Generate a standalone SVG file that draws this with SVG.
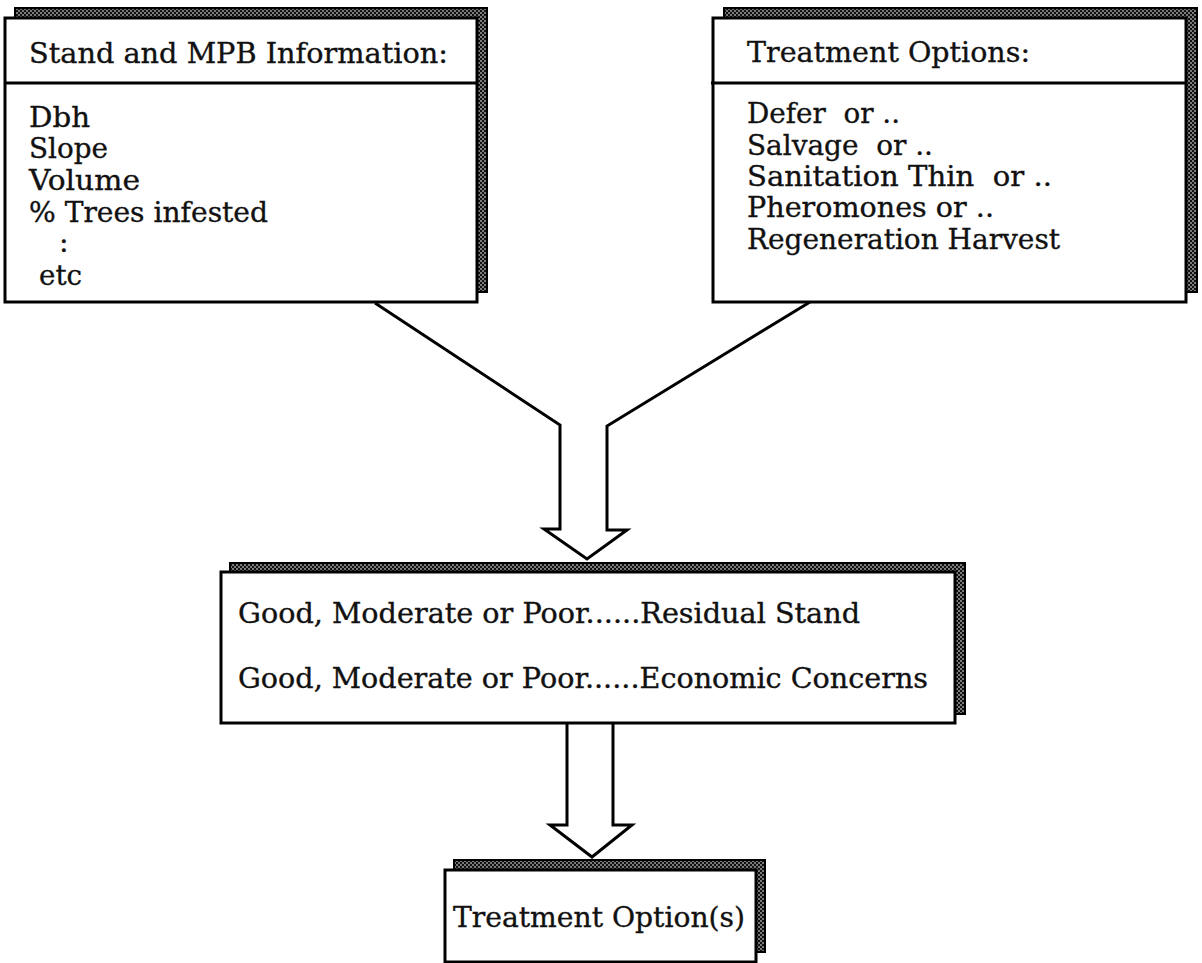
<svg xmlns="http://www.w3.org/2000/svg" width="1202" height="963" viewBox="0 0 1202 963">
  <defs>
    <!-- stippled fill used for the offset box shadows -->
    <pattern id="stipple" width="4" height="4" patternUnits="userSpaceOnUse">
      <rect width="4" height="4" fill="#111"/>
      <circle cx="1" cy="1" r="0.8" fill="#fff"/>
      <circle cx="3" cy="3" r="0.8" fill="#fff"/>
    </pattern>
    <style>
      .shadow { fill: url(#stipple); stroke: #000; stroke-width: 2; }
      .box { fill: #fff; stroke: #000; stroke-width: 3; }
      .rule { stroke: #000; stroke-width: 3; }
      .lbl { font-family: "DejaVu Serif", "Liberation Serif", serif; font-size: 28.5px; fill: #111; stroke: #111; stroke-width: 0.35; }
      .mid { font-size: 27px; }
      .arrow { fill: none; stroke: #000; stroke-width: 3; stroke-linejoin: miter; }
    </style>
  </defs>

  <rect width="1202" height="963" fill="#fff"/>

  <!-- input box: stand and MPB information -->
  <g id="stand-info">
    <rect class="shadow" x="15" y="8" width="472" height="284"/>
    <rect class="box" x="5" y="18" width="472" height="284"/>
    <line class="rule" x1="5" y1="83" x2="477" y2="83"/>
    <text class="lbl" x="29" y="63" textLength="419" lengthAdjust="spacingAndGlyphs">Stand and MPB Information:</text>
    <text class="lbl" x="29" y="127" textLength="61" lengthAdjust="spacingAndGlyphs">Dbh</text>
    <text class="lbl" x="29" y="158" textLength="79" lengthAdjust="spacingAndGlyphs">Slope</text>
    <text class="lbl" x="29" y="190" textLength="111" lengthAdjust="spacingAndGlyphs">Volume</text>
    <text class="lbl" x="29" y="221.5" textLength="239" lengthAdjust="spacingAndGlyphs">% Trees infested</text>
    <text class="lbl" x="59" y="252">:</text>
    <text class="lbl" x="39" y="285" textLength="43" lengthAdjust="spacingAndGlyphs">etc</text>
  </g>

  <!-- input box: treatment options -->
  <g id="treatment-options">
    <rect class="shadow" x="724" y="8" width="473" height="284"/>
    <rect class="box" x="713" y="18" width="473" height="284"/>
    <line class="rule" x1="711" y1="83" x2="1186" y2="83"/>
    <text class="lbl" x="747" y="62" textLength="283" lengthAdjust="spacingAndGlyphs">Treatment Options:</text>
    <text class="lbl" x="747" y="123" textLength="153" lengthAdjust="spacingAndGlyphs" xml:space="preserve">Defer  or ..</text>
    <text class="lbl" x="747" y="154.5" textLength="186" lengthAdjust="spacingAndGlyphs" xml:space="preserve">Salvage  or ..</text>
    <text class="lbl" x="747" y="185.5" textLength="305" lengthAdjust="spacingAndGlyphs" xml:space="preserve">Sanitation Thin  or ..</text>
    <text class="lbl" x="747" y="217" textLength="247" lengthAdjust="spacingAndGlyphs">Pheromones or ..</text>
    <text class="lbl" x="747" y="248.5" textLength="313" lengthAdjust="spacingAndGlyphs">Regeneration Harvest</text>
  </g>

  <!-- ratings box -->
  <g id="ratings">
    <rect class="shadow" x="230" y="563" width="735" height="151"/>
    <rect class="box" x="221" y="572" width="734" height="151"/>
    <text class="lbl mid" x="238" y="623" textLength="622" lengthAdjust="spacingAndGlyphs">Good, Moderate or Poor......Residual Stand</text>
    <text class="lbl mid" x="238" y="688" textLength="690" lengthAdjust="spacingAndGlyphs">Good, Moderate or Poor......Economic Concerns</text>
  </g>

  <!-- result box -->
  <g id="result">
    <rect class="shadow" x="454" y="860" width="311" height="92"/>
    <rect class="box" x="445" y="870" width="311" height="92"/>
    <text class="lbl" x="453" y="927" textLength="292" lengthAdjust="spacingAndGlyphs">Treatment Option(s)</text>
  </g>

  <!-- block arrows -->
  <g id="connectors">
    <polyline class="arrow" points="375,303 560,425 560,529 544,529 587,559 627,530 607,530 607,426 810,302"/>
    <polyline class="arrow" points="567,723 567,825 550,825 592,857 632,825 613,825 613,723"/>
  </g>
</svg>
